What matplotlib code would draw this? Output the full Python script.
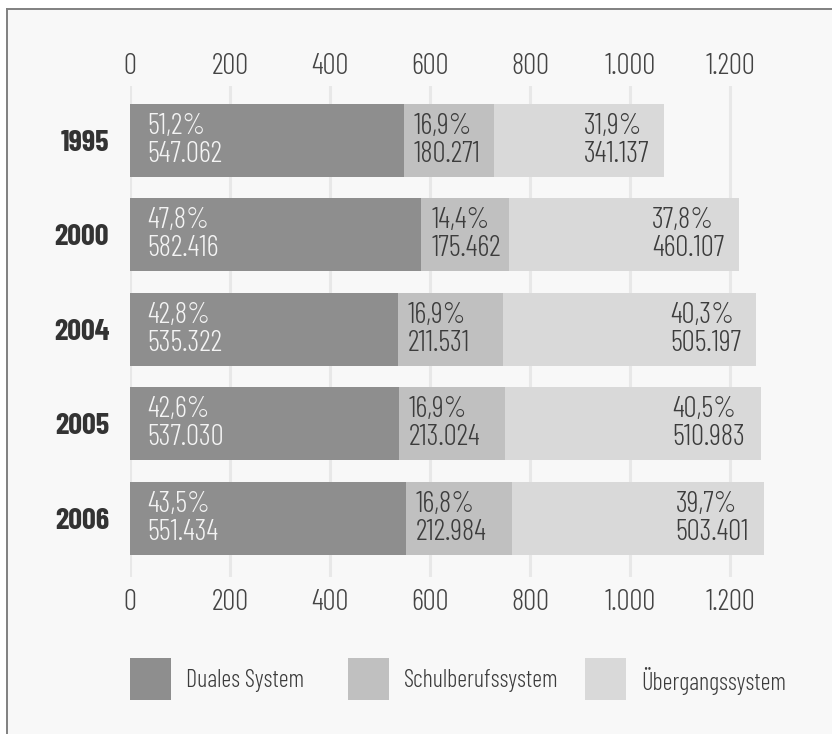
import matplotlib
matplotlib.use("Agg")
import matplotlib.pyplot as plt
from matplotlib.patches import Rectangle
from matplotlib.lines import Line2D

plt.rcParams['font.family'] = ['Barlow Condensed', 'DejaVu Sans']

years = ["1995", "2000", "2004", "2005", "2006"]
series_names = ["Duales System", "Schulberufssystem", "Übergangssystem"]
duales = [547062, 582416, 535322, 537030, 551434]
schul = [180271, 175462, 211531, 213024, 212984]
uebergang = [341137, 460107, 505197, 510983, 503401]
pct_duales = [51.2, 47.8, 42.8, 42.6, 43.5]
pct_schul = [16.9, 14.4, 16.9, 16.9, 16.8]
pct_uebergang = [31.9, 37.8, 40.3, 40.5, 39.7]
tick_values = [0, 200, 400, 600, 800, 1000, 1200]
tick_labels = ["0", "200", "400", "600", "800", "1.000", "1.200"]

colors = ["#8e8e8e", "#c0c0c0", "#d9d9d9"]
W, H = 832, 734
fig = plt.figure(figsize=(W / 100, H / 100), dpi=100)
fig.patch.set_facecolor("white")

# framed panel
fig.patches.append(Rectangle((7 / W, 0), 1, 1 - 9 / H, transform=fig.transFigure,
                             facecolor="#f8f8f8", edgecolor="none", zorder=-5))
fig.lines.append(Line2D([7 / W, 7 / W], [0, 1 - 9 / H], transform=fig.transFigure,
                        color="#808080", lw=1.4, zorder=-4))
fig.lines.append(Line2D([7 / W, 1], [1 - 9 / H, 1 - 9 / H], transform=fig.transFigure,
                        color="#808080", lw=1.4, zorder=-4))

ax_left, ax_right, ax_top, ax_bottom = 130, 780, 86, 577
ax = fig.add_axes([ax_left / W, 1 - ax_bottom / H, (ax_right - ax_left) / W,
                   (ax_bottom - ax_top) / H])
ax.set_facecolor("none")
for sp in ax.spines.values():
    sp.set_visible(False)

pitch = 94.4
top_center = 140.5
ylo = (ax_top - top_center) / pitch
yhi = (ax_bottom - top_center) / pitch
ax.set_ylim(yhi, ylo)
ax.set_xlim(0, 1300)

for t in tick_values:
    ax.axvline(t, color="#e8e8e8", lw=2.2, zorder=0)

ypos = list(range(len(years)))
d = [v / 1000 for v in duales]
s = [v / 1000 for v in schul]
u = [v / 1000 for v in uebergang]
left2 = d
left3 = [a + b for a, b in zip(d, s)]
bh = 73 / pitch
ax.barh(ypos, d, height=bh, color=colors[0], zorder=2)
ax.barh(ypos, s, left=left2, height=bh, color=colors[1], zorder=2)
ax.barh(ypos, u, left=left3, height=bh, color=colors[2], zorder=2)

def fmt_pct(p):
    return f"{p:.1f}".replace(".", ",") + "%"

def fmt_abs(v):
    return f"{v:,}".replace(",", ".")

fs_lab = 21
lw_txt = 300
ls = 1.05
for i in ypos:
    ax.annotate(fmt_pct(pct_duales[i]) + "\n" + fmt_abs(duales[i]), xy=(0, i),
                xytext=(17, 0), textcoords="offset pixels", ha="left", va="center",
                fontsize=fs_lab, fontweight=lw_txt, color="#f4f4f4", linespacing=ls,
                zorder=3)
    ax.annotate(fmt_pct(pct_schul[i]) + "\n" + fmt_abs(schul[i]), xy=(left2[i], i),
                xytext=(10, 0), textcoords="offset pixels", ha="left", va="center",
                fontsize=fs_lab, fontweight=lw_txt, color="#3c3c3c", linespacing=ls,
                zorder=3)
    ax.annotate(fmt_pct(pct_uebergang[i]) + "\n" + fmt_abs(uebergang[i]),
                xy=(left3[i] + u[i], i), xytext=(-15, 0), textcoords="offset pixels",
                ha="right", va="center", fontsize=fs_lab, fontweight=lw_txt,
                color="#3c3c3c", linespacing=ls, zorder=3, multialignment="left")

ax.set_yticks(ypos)
ax.set_yticklabels(years, fontsize=22, fontweight="bold", color="#333333")
ax.set_xticks(tick_values)
ax.set_xticklabels(tick_labels, fontsize=21, fontweight=lw_txt, color="#444444")
ax.tick_params(axis="x", length=0, pad=9, labeltop=False, labelbottom=True)
ax.tick_params(axis="y", length=0, pad=15)

top = ax.secondary_xaxis("top")
top.set_xticks(tick_values)
top.set_xticklabels(tick_labels, fontsize=21, fontweight=lw_txt, color="#444444")
top.tick_params(axis="x", length=0, pad=4.5)
for sp in top.spines.values():
    sp.set_visible(False)

# legend
leg_boxes = [130, 348, 585]
for x0, name, c in zip(leg_boxes, series_names, colors):
    fig.patches.append(Rectangle((x0 / W, 1 - 700 / H), 41 / W, 42 / H,
                                 transform=fig.transFigure, facecolor=c,
                                 edgecolor="none"))
    fig.text((x0 + 56) / W, 1 - 681 / H, name, ha="left", va="center",
             fontsize=17.5, fontweight=lw_txt, color="#3c3c3c")

fig.savefig("out.png", dpi=100, facecolor=fig.get_facecolor())
